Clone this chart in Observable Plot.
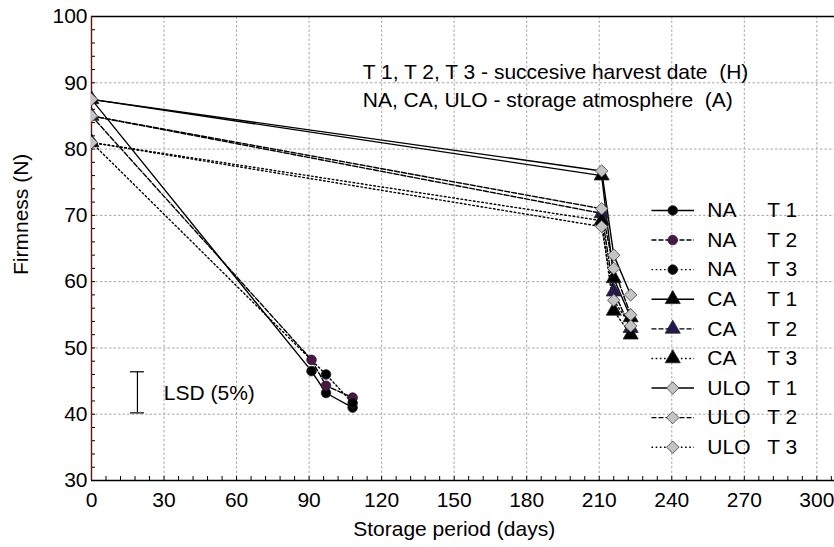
<!DOCTYPE html>
<html><head><meta charset="utf-8">
<script src="https://cdn.jsdelivr.net/npm/d3@7"></script>
<script src="https://cdn.jsdelivr.net/npm/@observablehq/plot@0.6"></script>
<style>html,body{margin:0;padding:0;background:#fff;overflow:hidden}</style>
</head><body><div id="chart"></div>
<script>
// ---------- data ----------
const atmospheres = ["NA", "CA", "ULO"];
const harvests = ["T 1", "T 2", "T 3"];

const naT1Days = [0, 91, 97, 108],   naT1Firm = [87.5, 46.5, 43.2, 41.0];
const naT2Days = [0, 91, 97, 108],   naT2Firm = [85.0, 48.2, 44.3, 42.5];
const naT3Days = [0, 97, 108],       naT3Firm = [81.0, 46.0, 41.7];
const caT1Days = [0, 211, 216, 223], caT1Firm = [87.5, 76.0, 60.5, 54.6];
const caT2Days = [0, 211, 216, 223], caT2Firm = [85.0, 70.3, 58.5, 53.0];
const caT3Days = [0, 211, 216, 223], caT3Firm = [81.0, 69.2, 55.6, 52.0];
const uloT1Days = [0, 211, 216, 223], uloT1Firm = [87.5, 76.7, 64.0, 58.0];
const uloT2Days = [0, 211, 216, 223], uloT2Firm = [85.0, 71.0, 62.0, 55.0];
const uloT3Days = [0, 211, 216, 223], uloT3Firm = [81.0, 68.3, 57.2, 53.3];

const xTicks = [0, 30, 60, 90, 120, 150, 180, 210, 240, 270, 300];
const yTicks = [30, 40, 50, 60, 70, 80, 90, 100];
const lsdDay = 19, lsdLow = 40.2, lsdHigh = 46.4;
const lsdLabel = "LSD (5%)";
const notes = ["T 1, T 2, T 3 - succesive harvest date  (H)", "NA, CA, ULO - storage atmosphere  (A)"];
const xTitle = "Storage period (days)";
const yTitle = "Firmness (N)";

// ---------- build table ----------
const seriesDefs = [
  ["NA", "T 1", naT1Days, naT1Firm], ["NA", "T 2", naT2Days, naT2Firm], ["NA", "T 3", naT3Days, naT3Firm],
  ["CA", "T 1", caT1Days, caT1Firm], ["CA", "T 2", caT2Days, caT2Firm], ["CA", "T 3", caT3Days, caT3Firm],
  ["ULO", "T 1", uloT1Days, uloT1Firm], ["ULO", "T 2", uloT2Days, uloT2Firm], ["ULO", "T 3", uloT3Days, uloT3Firm]
];
const rows = seriesDefs.flatMap(([atm, harv, days, firm]) =>
  days.map((d, i) => ({atm, harv, key: atm + harv, day: d, firm: firm[i]})));

// ---------- styles ----------
const dashOf = {"T 1": null, "T 2": "5,2", "T 3": "1.6,2.6"};
const symbolOf = {"NA": "circle", "CA": "triangle", "ULO": "diamond2"};
const rOf = {"NA": 4.8, "CA": 5.6, "ULO": 5.6};
function fillOf(atm, harv) {
  if (atm === "ULO") return "#c4c4c4";
  if (atm === "NA") return harv === "T 2" ? "#4a1646" : "#000000";
  return harv === "T 2" ? "#25184f" : "#000000";
}
function strokeOf(atm) { return atm === "ULO" ? "#3c3c3c" : "#222"; }

// legend rows
const legendRows = atmospheres.flatMap(a => harvests.map(h => ({atm: a, harv: h})));
legendRows.forEach((d, i) => { d.v = 70.74 - i * 4.465; });
const LX0 = 231.6, LXM = 240.4, LX1 = 249.2, LXA = 254.7, LXH = 279.5;

const marks = [];
// grid
marks.push(Plot.ruleX(xTicks.filter(d => d > 0), {stroke: "#a8a8a8", strokeDasharray: "2.5,2", strokeWidth: 1}));
marks.push(Plot.ruleY(yTicks.filter(d => d > 30 && d < 100), {stroke: "#a8a8a8", strokeDasharray: "2.5,2", strokeWidth: 1}));
// minor ticks (inside)
marks.push(Plot.tickY(d3.range(30, 100.01, 2), {y: d => d, insetRight: 739, stroke: "#000", strokeWidth: 1}));
marks.push(Plot.tickX(d3.range(0, 307, 6), {x: d => d, insetTop: 460, stroke: "#000", strokeWidth: 1}));
// frame lines
marks.push(Plot.ruleY([100], {stroke: "#000", strokeWidth: 1.3}));
marks.push(Plot.ruleY([30], {stroke: "#000", strokeWidth: 1.3}));
marks.push(Plot.ruleX([0], {stroke: "#6a0f12", strokeWidth: 1.4}));

// lines
for (const h of harvests) {
  marks.push(Plot.line(rows.filter(r => r.harv === h), {
    x: "day", y: "firm", z: "key", stroke: "#000", strokeWidth: 1.4,
    strokeDasharray: dashOf[h], clip: true
  }));
}
// markers
for (const a of atmospheres) {
  marks.push(Plot.dot(rows.filter(r => r.atm === a), {
    x: "day", y: "firm", symbol: symbolOf[a], r: rOf[a],
    fill: d => fillOf(d.atm, d.harv), stroke: strokeOf(a), strokeWidth: 0.8, clip: true
  }));
}

// LSD bar
marks.push(Plot.ruleX([{d: lsdDay, lo: lsdLow, hi: lsdHigh}], {x: "d", y1: "lo", y2: "hi", stroke: "#000", strokeWidth: 1.2}));
marks.push(Plot.ruleY([lsdLow, lsdHigh], {y: d => d, x1: lsdDay - 2.9, x2: lsdDay + 2.9, stroke: "#000", strokeWidth: 1.2}));
marks.push(Plot.text([{t: lsdLabel, d: 29.9, v: 43.1}], {text: "t", x: "d", y: "v", textAnchor: "start", fontSize: 21, fill: "#000"}));

// notes
marks.push(Plot.text(notes.map((t, i) => ({t, v: 91.55 - i * 4.22})), {text: "t", x: () => 112.2, y: "v", textAnchor: "start", fontSize: 21, fill: "#000"}));

// legend
for (const h of harvests) {
  marks.push(Plot.link(legendRows.filter(d => d.harv === h), {
    x1: () => LX0, x2: () => LX1, y1: "v", y2: "v", stroke: "#000", strokeWidth: 1.4, strokeDasharray: dashOf[h]
  }));
}
for (const a of atmospheres) {
  marks.push(Plot.dot(legendRows.filter(d => d.atm === a), {
    x: () => LXM, y: "v", symbol: symbolOf[a], r: rOf[a],
    fill: d => fillOf(d.atm, d.harv), stroke: strokeOf(a), strokeWidth: 0.8
  }));
}
marks.push(Plot.text(legendRows, {text: "atm", x: () => LXA, y: "v", textAnchor: "start", fontSize: 21, fill: "#000"}));
marks.push(Plot.text(legendRows, {text: "harv", x: () => LXH, y: "v", textAnchor: "start", fontSize: 21, fill: "#000"}));

// axes
marks.push(Plot.axisX({ticks: xTicks, tickSize: 0, tickPadding: 12, fontSize: 21, label: null, tickFormat: d => String(d)}));
marks.push(Plot.axisY({ticks: yTicks, tickSize: 0, tickPadding: 4, fontSize: 21, label: null, tickFormat: d => String(d)}));
marks.push(Plot.text([{t: xTitle, d: 150}], {text: "t", x: "d", frameAnchor: "bottom", dy: 55, fontSize: 21, fill: "#000"}));
marks.push(Plot.text([{t: yTitle, v: 61.0}], {text: "t", y: "v", frameAnchor: "left", dx: -70, rotate: -90, fontSize: 21, fill: "#000"}));

const chart = Plot.plot({
  width: 834, height: 547,
  marginLeft: 91, marginRight: 0, marginTop: 16, marginBottom: 67,
  x: {domain: [0, 307.3]},
  y: {domain: [30, 100]},
  style: {fontFamily: "'Liberation Sans', Arial, sans-serif", fontSize: "21px", color: "#000", background: "#fff"},
  marks
});
document.getElementById("chart").appendChild(chart);
</script>
</body></html>
